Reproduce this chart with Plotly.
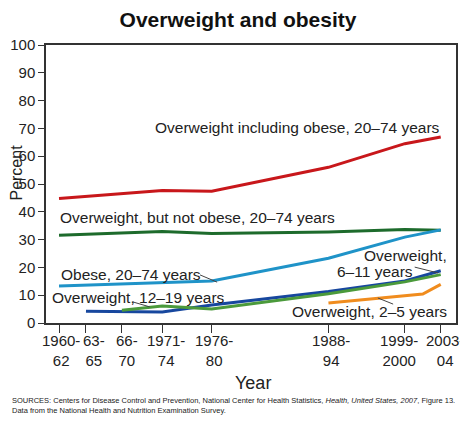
import plotly.graph_objects as go

# survey periods (x position = middle year of the period)
period_labels = ["1960-<br>62", "63-<br>65", "66-<br>70", "1971-<br>74", "1976-<br>80",
                 "1988-<br>94", "1999-<br>2000", "2003-<br>04"]
period_mid = [1961, 1964, 1968, 1972.5, 1978, 1991, 1999.5, 2003.5]

adult_x = [1961, 1972.5, 1978, 1991, 1999.5, 2003.5]
ow_incl_obese = [44.8, 47.7, 47.4, 56.0, 64.5, 66.9]
ow_not_obese = [31.6, 32.9, 32.2, 32.7, 33.6, 33.4]
obese = [13.3, 14.6, 15.1, 23.3, 30.9, 33.5]

kids611_x = [1964, 1972.5, 1978, 1991, 1999.5, 2003.5]
ow_6_11 = [4.2, 4.0, 6.5, 11.3, 15.1, 18.8]

teens_x = [1968, 1972.5, 1978, 1991, 1999.5, 2003.5]
ow_12_19 = [4.6, 6.1, 5.0, 10.5, 14.8, 17.4]

tots_x = [1991, 1999.5, 2001.5, 2003.5]
ow_2_5 = [7.2, 10.0, 10.4, 13.9]

FONT = "Arial, Liberation Sans, sans-serif"
# small horizontal nudges (px) of the period labels, as in the original
label_nudge = [2, 8, 5, 4, 2, 3, -6, 4]

fig = go.Figure()
series = [
    (adult_x, ow_incl_obese, "#c8171b"),
    (adult_x, ow_not_obese, "#1d6b2c"),
    (adult_x, obese, "#1f93c8"),
    (kids611_x, ow_6_11, "#17479e"),
    (teens_x, ow_12_19, "#4b9a3b"),
    (tots_x, ow_2_5, "#f08c1e"),
]
for xs, ys, col in series:
    fig.add_trace(go.Scatter(x=xs, y=ys, mode="lines",
                             line=dict(color=col, width=3), showlegend=False))

labels = [
    ("Overweight including obese, 20–74 years", 1987.6, 70.5),
    ("Overweight, but not obese, 20–74 years", 1976.4, 38.1),
    ("Obese, 20–74 years", 1969.0, 17.6),
    ("Overweight, 12–19 years", 1969.8, 9.0),
    ("Overweight,", 1999.6, 24.3),
    ("6–11 years", 1996.2, 18.6),
    ("Overweight, 2–5 years", 1995.6, 4.0),
]
for txt, x, y in labels:
    fig.add_annotation(text=txt, x=x, y=y, showarrow=False, borderpad=0,
                       font=dict(family=FONT, size=15.5, color="#222"))

# leader lines from labels to the curves
leaders = [
    (1976.7, 17.3, 1978.6, 14.7),
    (1969.2, 7.6, 1971.1, 5.8),
    (2000.6, 20.1, 2003.2, 18.0),
    (1996.5, 9.0, 1998.2, 6.8),
]
for x0, y0, x1, y1 in leaders:
    fig.add_shape(type="line", x0=x0, y0=y0, x1=x1, y1=y1,
                  line=dict(color="#444", width=1))

# period labels under the ticks
for txt, x, dx in zip(period_labels, period_mid, label_nudge):
    fig.add_annotation(text=txt, x=x, xref="x", y=-0.099, yref="paper",
                       xanchor="center", yanchor="middle", xshift=dx,
                       showarrow=False, font=dict(family=FONT, size=15, color="#222"))

fig.add_annotation(text="Percent", xref="paper", yref="paper", x=-0.072, y=0.543,
                   xanchor="center", yanchor="middle", textangle=-90, showarrow=False,
                   font=dict(family=FONT, size=16, color="#222"))
fig.add_annotation(text="Year", xref="paper", yref="paper", x=0.505, y=-0.216,
                   xanchor="center", yanchor="middle",
                   showarrow=False, font=dict(family=FONT, size=18, color="#222"))
fig.add_annotation(
    text="SOURCES: Centers for Disease Control and Prevention, National Center for Health Statistics, "
         "<i>Health, United States, 2007</i>, Figure 13.<br>"
         "Data from the National Health and Nutrition Examination Survey.",
    xref="paper", yref="paper", x=-0.088, y=-0.255, xanchor="left", yanchor="top",
    align="left", showarrow=False, font=dict(family=FONT, size=7.5, color="#222"))

fig.update_layout(
    width=460,
    height=414,
    margin=dict(l=38, r=12, t=37, b=99, autoexpand=False),
    paper_bgcolor="white",
    plot_bgcolor="white",
    title=dict(text="<b>Overweight and obesity</b>", x=0.5, xanchor="center",
               y=1 - 12 / 414, yanchor="middle",
               font=dict(family=FONT, size=21, color="#111")),
    xaxis=dict(range=[1959.55, 2005.2], tickvals=period_mid, showticklabels=False,
               automargin=False,
               ticks="outside", ticklen=8, tickcolor="#333", showgrid=False,
               zeroline=False, showline=True, mirror=True, linecolor="#333", linewidth=1.5),
    yaxis=dict(range=[0, 100], dtick=10, ticks="outside", ticklen=6, tickcolor="#333",
               automargin=False,
               showgrid=False, zeroline=False, showline=True, mirror=True,
               linecolor="#333", linewidth=1.5,
               tickfont=dict(family=FONT, size=15, color="#222")),
)

fig.write_html("out.html")
